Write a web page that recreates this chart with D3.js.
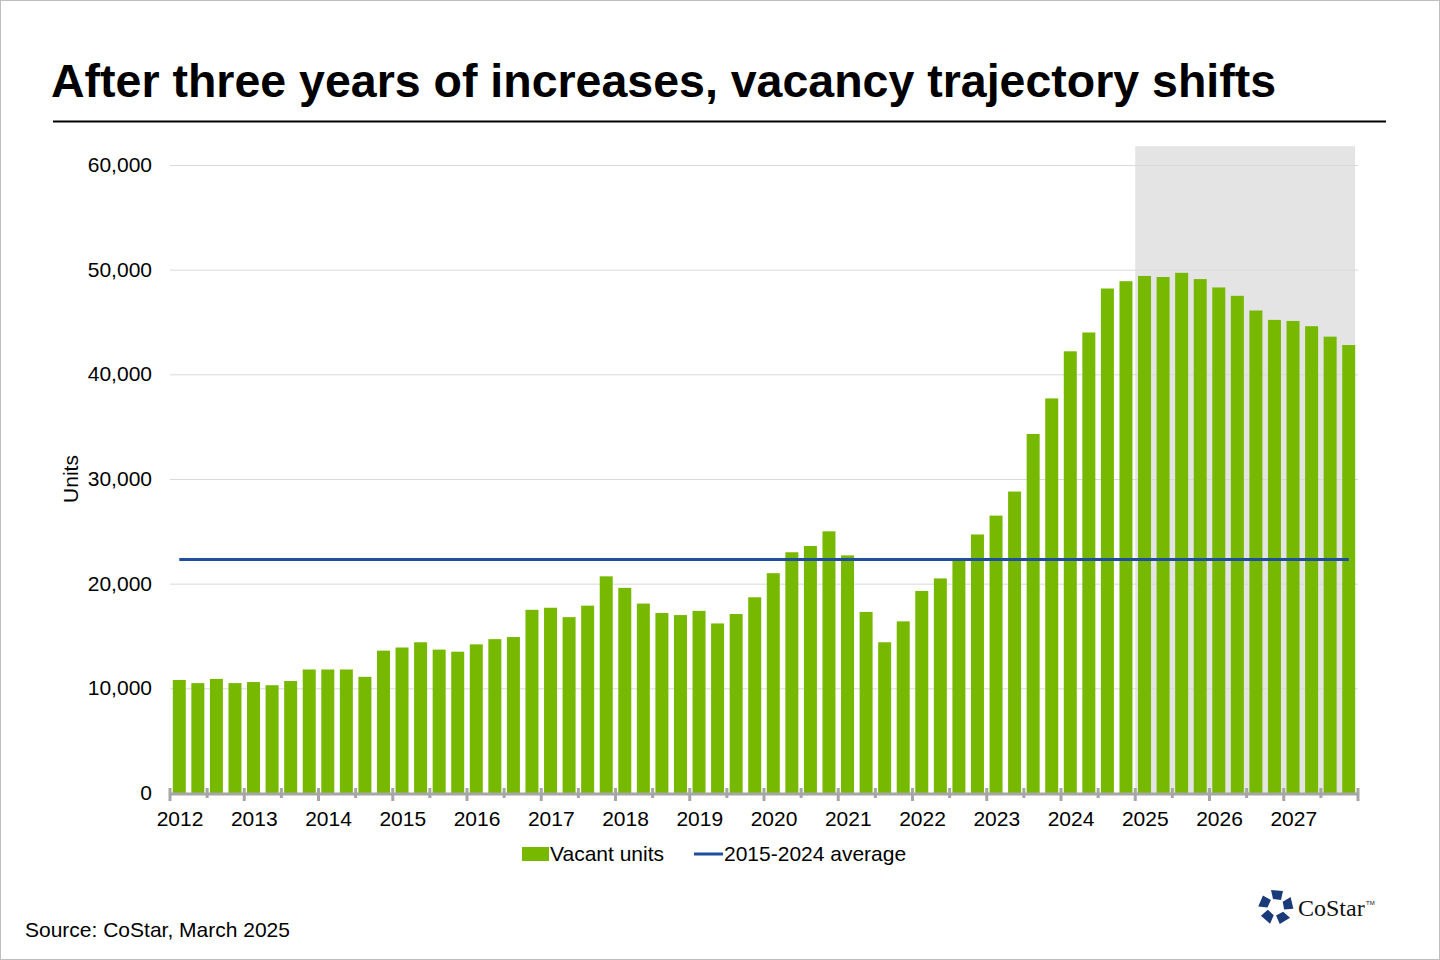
<!DOCTYPE html>
<html>
<head>
<meta charset="utf-8">
<script src="https://cdn.jsdelivr.net/npm/d3@7"></script>
<style>
  body { margin: 0; background: #fff; }
  svg { font-family: Arial, "Liberation Sans", sans-serif; }
</style>
</head>
<body>
<svg></svg>
<script>
const years = ['2012', '2013', '2014', '2015', '2016', '2017', '2018', '2019',
  '2020', '2021', '2022', '2023', '2024', '2025', '2026', '2027'];
const quarters = ['Q1', 'Q2', 'Q3', 'Q4'];
const vacantUnits = [
  10800, 10500, 10900, 10500,
  10600, 10300, 10700, 11800,
  11800, 11800, 11100, 13600,
  13900, 14400, 13700, 13500,
  14200, 14700, 14900, 17500,
  17700, 16800, 17900, 20700,
  19600, 18100, 17200, 17000,
  17400, 16200, 17100, 18700,
  21000, 23000, 23600, 25000,
  22700, 17300, 14400, 16400,
  19300, 20500, 22300, 24700,
  26500, 28800, 34300, 37700,
  42200, 44000, 48200, 48900,
  49400, 49300, 49700, 49100,
  48300, 47500, 46100, 45200,
  45100, 44600, 43600, 42800
];
const average = 22300;
const forecastStart = '2025';
const yTicks = [0, 10000, 20000, 30000, 40000, 50000, 60000];

const width = 1440;
const height = 960;
const plotLeft = 170, plotRight = 1358, plotTop = 165, plotBottom = 793;
const fs = 21;

const periods = [];
years.forEach((y) => quarters.forEach((q) => periods.push(y + q)));
const values = periods.map((p, i) => ({ period: p, value: vacantUnits[i] }));

const svg = d3.select('svg').attr('width', width).attr('height', height);

svg.append('rect').attr('x', 0.5).attr('y', 0.5).attr('width', width - 1).attr('height', height - 1)
  .attr('fill', '#fff').attr('stroke', '#bfbfbf');

svg.append('text').attr('x', 51).attr('y', 97).attr('font-size', 46.5).attr('font-weight', 'bold')
  .attr('fill', '#000').text('After three years of increases, vacancy trajectory shifts');
svg.append('line').attr('x1', 53).attr('x2', 1386).attr('y1', 121.5).attr('y2', 121.5)
  .attr('stroke', '#000').attr('stroke-width', 2);

const xScale = d3.scaleBand().domain(periods).range([plotLeft, plotRight]).paddingInner(0.3).paddingOuter(0.15);
const yScale = d3.scaleLinear().domain([0, 60000]).range([plotBottom, plotTop]);
const qw = (plotRight - plotLeft) / periods.length;
const qStart = (p) => plotLeft + periods.indexOf(p) * qw;

// forecast shading
svg.append('rect')
  .attr('x', qStart(forecastStart + 'Q1'))
  .attr('y', yScale(61800))
  .attr('width', plotRight - 3 - qStart(forecastStart + 'Q1'))
  .attr('height', plotBottom - yScale(61800))
  .attr('fill', '#e4e4e4');

// gridlines
svg.append('g').selectAll('line').data(yTicks.slice(1)).enter().append('line')
  .attr('x1', plotLeft).attr('x2', plotRight)
  .attr('y1', (d) => yScale(d) + 0.5).attr('y2', (d) => yScale(d) + 0.5)
  .attr('stroke', '#d9d9d9');

svg.append('g').selectAll('text').data(yTicks).enter().append('text')
  .attr('x', 152).attr('y', (d) => yScale(d) + 7)
  .attr('text-anchor', 'end').attr('font-size', fs).attr('fill', '#000')
  .text((d) => d3.format(',')(d));

svg.append('text').attr('transform', 'translate(78,' + (plotBottom + plotTop) / 2 + ') rotate(-90)')
  .attr('text-anchor', 'middle').attr('font-size', fs).text('Units');

// bars
svg.append('g').selectAll('rect').data(values).enter().append('rect')
  .attr('x', (d) => xScale(d.period))
  .attr('width', xScale.bandwidth())
  .attr('y', (d) => yScale(d.value))
  .attr('height', (d) => plotBottom - yScale(d.value))
  .attr('fill', '#77b900');

// average line
svg.append('line')
  .attr('x1', xScale(periods[0]) + xScale.bandwidth() / 2)
  .attr('x2', xScale(periods[periods.length - 1]) + xScale.bandwidth() / 2)
  .attr('y1', yScale(average)).attr('y2', yScale(average))
  .attr('stroke', '#1f4e9c').attr('stroke-width', 3);

// x axis
svg.append('line').attr('x1', plotLeft).attr('x2', plotRight).attr('y1', plotBottom + 1).attr('y2', plotBottom + 1)
  .attr('stroke', '#a6a6a6').attr('stroke-width', 3);
const tickIdx = d3.range(0, periods.length + 1, 2);
svg.append('g').selectAll('line').data(tickIdx).enter().append('line')
  .attr('x1', (i) => plotLeft + i * qw).attr('x2', (i) => plotLeft + i * qw)
  .attr('y1', plotBottom - 5).attr('y2', (i) => (i % 4 === 0 ? plotBottom + 8 : plotBottom + 5))
  .attr('stroke', '#a6a6a6').attr('stroke-width', 3);
svg.append('g').selectAll('text').data(years).enter().append('text')
  .attr('x', (y) => qStart(y + 'Q1') + 10).attr('y', 826)
  .attr('text-anchor', 'middle').attr('font-size', fs).text((y) => y);

// legend
svg.append('rect').attr('x', 522).attr('y', 847).attr('width', 27).attr('height', 14).attr('fill', '#77b900');
svg.append('text').attr('x', 550).attr('y', 861).attr('font-size', fs).text('Vacant units');
svg.append('line').attr('x1', 694).attr('x2', 723).attr('y1', 854).attr('y2', 854)
  .attr('stroke', '#1f4e9c').attr('stroke-width', 3);
svg.append('text').attr('x', 724).attr('y', 861).attr('font-size', fs).text('2015-2024 average');

svg.append('text').attr('x', 25).attr('y', 937).attr('font-size', fs).text('Source: CoStar, March 2025');

// logo
const logo = svg.append('g').attr('transform', 'translate(1276,907)');
d3.range(5).forEach((k) => {
  logo.append('path').attr('d', 'M-5,-17 L7,-16 L5,-7 L-3,-8 Z')
    .attr('transform', 'rotate(' + k * 72 + ')').attr('fill', '#1b3a7a');
});
logo.append('text').attr('x', 22).attr('y', 9).attr('font-family', '"Liberation Serif", serif')
  .attr('font-size', 24).attr('fill', '#111').text('CoStar');
logo.append('text').attr('x', 90).attr('y', -2).attr('font-size', 6).attr('fill', '#111').text('TM');
</script>
</body>
</html>
